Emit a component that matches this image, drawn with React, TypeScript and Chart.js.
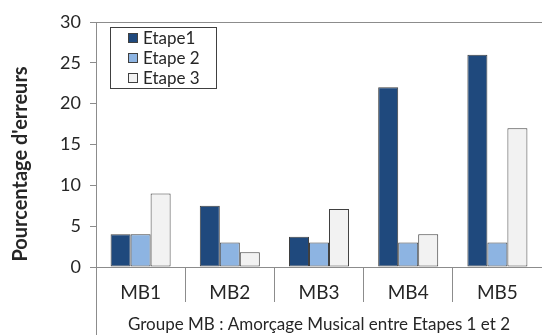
import React, { useEffect, useRef } from "react";
import Chart from "chart.js/auto";

const categories = ["MB1", "MB2", "MB3", "MB4", "MB5"];
const etape1 = [4, 7.5, 3.7, 22, 26];
const etape2 = [4, 3, 3, 3, 3];
const etape3 = [9, 1.8, 7.1, 4, 17];
const seriesLabels = ["Etape1", "Etape 2", "Etape 3"];
const seriesColors = ["#1F497D", "#8DB4E2", "#F2F2F2"];
const yTitle = "Pourcentage d'erreurs";
const xTitle = "Groupe MB : Amorçage Musical entre Etapes 1 et 2";

const FONT = "Lato";
const TEXT = "#262626";
const AXIS = "#8c8c8c";

const decorPlugin = {
  id: "decor",
  afterDraw(chart: any) {
    const ctx = chart.ctx;
    const ca = chart.chartArea;
    ctx.save();
    // y-axis extension down through category band
    ctx.strokeStyle = AXIS;
    ctx.lineWidth = 1;
    ctx.beginPath();
    ctx.moveTo(Math.round(ca.left) + 0.5, ca.bottom);
    ctx.lineTo(Math.round(ca.left) + 0.5, chart.height);
    ctx.stroke();

    // y title
    ctx.fillStyle = TEXT;
    ctx.font = `bold 20px ${FONT}`;
    ctx.textAlign = "center";
    ctx.textBaseline = "middle";
    ctx.translate(21, 164);
    ctx.rotate(-Math.PI / 2);
    ctx.fillText(yTitle, 0, 0);
    ctx.setTransform(1, 0, 0, 1, 0, 0);

    // x title
    ctx.font = `17px ${FONT}`;
    ctx.fillStyle = TEXT;
    ctx.textAlign = "center";
    ctx.textBaseline = "middle";
    ctx.fillText(xTitle, (ca.left + ca.right) / 2, 325);

    // legend box
    const bx = 110.5, by = 27.5, bw = 106, bh = 61;
    ctx.fillStyle = "#ffffff";
    ctx.fillRect(bx, by, bw, bh);
    ctx.strokeStyle = "#404040";
    ctx.strokeRect(bx, by, bw, bh);
    const rowsY = [38, 58, 78];
    ctx.font = `17px ${FONT}`;
    ctx.textAlign = "left";
    ctx.textBaseline = "middle";
    chart.data.datasets.forEach((ds: any, i: number) => {
      const y = rowsY[i];
      ctx.fillStyle = ds.backgroundColor;
      ctx.fillRect(128.5, y - 4.5, 9, 9);
      ctx.strokeStyle = "#404040";
      ctx.strokeRect(128.5, y - 4.5, 9, 9);
      ctx.fillStyle = TEXT;
      ctx.fillText(ds.label, 143, y + 1);
    });
    ctx.restore();
  },
};

export default function App() {
  const ref = useRef<HTMLCanvasElement>(null);
  useEffect(() => {
    if (!ref.current) return;
    const mk = (label: string, data: number[], color: string) => ({
      label,
      data,
      backgroundColor: color,
      borderColor: "#404040",
      borderWidth: 1,
      borderSkipped: false,
      categoryPercentage: 0.673,
      barPercentage: 1,
    });
    const chart = new Chart(ref.current, {
      type: "bar",
      data: {
        labels: categories,
        datasets: [
          mk(seriesLabels[0], etape1, seriesColors[0]),
          mk(seriesLabels[1], etape2, seriesColors[1]),
          mk(seriesLabels[2], etape3, seriesColors[2]),
        ],
      },
      options: {
        responsive: false,
        animation: false,
        layout: { padding: { left: 0, top: 22, right: 0, bottom: 0 } },
        plugins: {
          legend: { display: false },
          tooltip: { enabled: false },
        },
        scales: {
          x: {
            offset: true,
            grid: {
              display: true,
              offset: true,
              drawOnChartArea: false,
              drawTicks: true,
              tickLength: 35,
              color: AXIS,
              tickColor: AXIS,
            },
            border: { display: true, color: AXIS },
            ticks: {
              color: TEXT,
              font: { family: FONT, size: 19 },
              padding: -21,
            },
            afterFit(scale: any) {
              scale.height = 68;
            },
          },
          y: {
            min: 0,
            max: 30,
            ticks: {
              stepSize: 5,
              color: TEXT,
              font: { family: FONT, size: 18 },
              padding: 9,
            },
            grid: {
              display: true,
              drawTicks: true,
              tickLength: 6,
              color: (c: any) => (c.tick && c.tick.value === 30 ? AXIS : "rgba(0,0,0,0)"),
              tickColor: AXIS,
            },
            border: { display: true, color: AXIS },
            afterFit(scale: any) {
              scale.width = 96;
            },
          },
        },
      },
      plugins: [decorPlugin],
    });
    return () => chart.destroy();
  }, []);
  return (
    <div style={{ position: "fixed", left: 0, top: 0, width: 542, height: 335, background: "#fff" }}>
      <canvas ref={ref} width={542} height={335} style={{ display: "block" }} />
    </div>
  );
}
